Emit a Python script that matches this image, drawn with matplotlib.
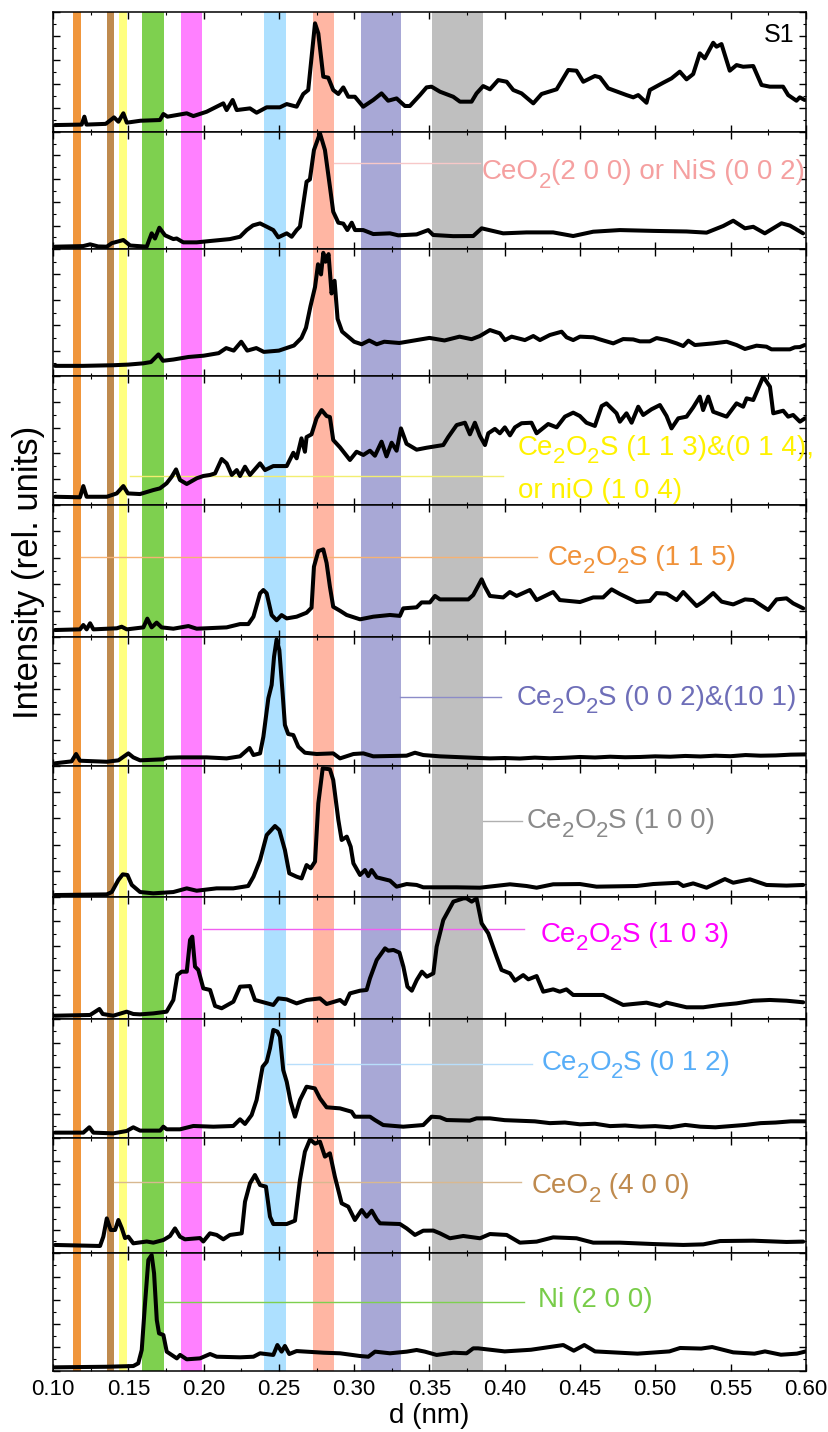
import matplotlib
matplotlib.use('Agg')
import matplotlib.pyplot as plt
from matplotlib.ticker import MultipleLocator, FormatStrFormatter

plt.rcParams['font.family'] = ['Liberation Sans', 'DejaVu Sans']

# d-spacing (nm) and relative intensity (fraction of panel height), top panel first
d1 = [0.1013, 0.119, 0.1208, 0.1222, 0.135, 0.1405, 0.1434, 0.1467, 0.149, 0.158, 0.171, 0.1733, 0.176,
      0.1888, 0.1932, 0.202, 0.2131, 0.2153, 0.2193, 0.222, 0.2308, 0.2352, 0.2419, 0.2507, 0.2552, 0.2618,
      0.2662, 0.2695, 0.274, 0.2762, 0.2795, 0.2828, 0.2861, 0.2895, 0.2928, 0.2961, 0.3005, 0.306, 0.3127,
      0.3182, 0.3226, 0.3282, 0.3337, 0.337, 0.3437, 0.3481, 0.3514, 0.357, 0.3658, 0.3703, 0.378, 0.3813,
      0.3857, 0.3902, 0.3957, 0.4013, 0.4057, 0.4112, 0.419, 0.4245, 0.4345, 0.4422, 0.4477, 0.4522, 0.4599,
      0.4633, 0.4688, 0.4809, 0.4854, 0.4887, 0.4942, 0.4964, 0.5053, 0.5108, 0.5163, 0.5208, 0.5252, 0.5296,
      0.5329, 0.5385, 0.5407, 0.544, 0.5495, 0.554, 0.5584, 0.5651, 0.5706, 0.5761, 0.5849, 0.5883, 0.5938,
      0.596, 0.5993]
i1 = [0.058, 0.062, 0.128, 0.062, 0.068, 0.122, 0.086, 0.156, 0.078, 0.094, 0.100, 0.15, 0.128,
      0.156, 0.133, 0.169, 0.239, 0.183, 0.267, 0.183, 0.197, 0.161, 0.206, 0.206, 0.233, 0.211,
      0.317, 0.35, 0.906, 0.822, 0.461, 0.453, 0.35, 0.317, 0.372, 0.294, 0.294, 0.211, 0.267,
      0.322, 0.261, 0.28, 0.217, 0.217, 0.308, 0.372, 0.378, 0.336, 0.294, 0.253, 0.253, 0.322,
      0.383, 0.356, 0.433, 0.419, 0.35, 0.322, 0.239, 0.317, 0.356, 0.517, 0.511, 0.419, 0.467,
      0.456, 0.364, 0.308, 0.289, 0.308, 0.244, 0.35, 0.411, 0.447, 0.503, 0.439, 0.483, 0.656,
      0.614, 0.744, 0.711, 0.733, 0.511, 0.558, 0.544, 0.55, 0.392, 0.378, 0.378, 0.308, 0.261,
      0.289, 0.267]

d2 = [0.1013, 0.12, 0.1246, 0.13, 0.1357, 0.139, 0.1467, 0.1512, 0.1622, 0.1655, 0.1677, 0.1706, 0.1744,
      0.1799, 0.1821, 0.1865, 0.1954, 0.2063, 0.2175, 0.2242, 0.2286, 0.2328, 0.2375, 0.2419, 0.2463, 0.2496,
      0.2552, 0.2585, 0.2618, 0.264, 0.2684, 0.2706, 0.2733, 0.2773, 0.2806, 0.2839, 0.2861, 0.2895, 0.2928,
      0.2955, 0.2984, 0.3006, 0.306, 0.3127, 0.3238, 0.3293, 0.3415, 0.3492, 0.3525, 0.3658, 0.3791, 0.3847,
      0.399, 0.4145, 0.4322, 0.4455, 0.4588, 0.4765, 0.4986, 0.5208, 0.5341, 0.5452, 0.5518, 0.5596, 0.5651,
      0.5728, 0.5839, 0.5895, 0.5982]
i2 = [0.02, 0.025, 0.04, 0.022, 0.02, 0.05, 0.077, 0.03, 0.02, 0.134, 0.09, 0.182, 0.117,
      0.085, 0.09, 0.057, 0.057, 0.071, 0.085, 0.105, 0.162, 0.202, 0.219, 0.191, 0.162, 0.1,
      0.134, 0.105, 0.162, 0.191, 0.575, 0.595, 0.846, 0.989, 0.846, 0.533, 0.319, 0.225, 0.217,
      0.162, 0.225, 0.162, 0.162, 0.128, 0.134, 0.117, 0.125, 0.162, 0.12, 0.11, 0.111, 0.177,
      0.134, 0.142, 0.142, 0.111, 0.148, 0.162, 0.155, 0.15, 0.14, 0.197, 0.242, 0.177, 0.19,
      0.134, 0.22, 0.2, 0.134]

d3 = [0.1013, 0.12, 0.14, 0.15, 0.16, 0.165, 0.17, 0.173, 0.18, 0.19, 0.2, 0.21, 0.215, 0.22, 0.225, 0.229,
      0.235, 0.24, 0.25, 0.255, 0.26, 0.265, 0.268, 0.271, 0.274, 0.276, 0.278, 0.2795, 0.281, 0.283, 0.285,
      0.287, 0.289, 0.292, 0.295, 0.3, 0.305, 0.31, 0.315, 0.32, 0.33, 0.34, 0.35, 0.36, 0.37, 0.378, 0.3835,
      0.3902, 0.3968, 0.4002, 0.4046, 0.4134, 0.419, 0.4234, 0.43, 0.4378, 0.4411, 0.4455, 0.45, 0.4588, 0.4633,
      0.4721, 0.4787, 0.4854, 0.4898, 0.4964, 0.5009, 0.5075, 0.5142, 0.5186, 0.522, 0.5263, 0.5385, 0.5474,
      0.554, 0.5596, 0.5673, 0.5739, 0.5772, 0.5894, 0.5927, 0.5961, 0.5993]
i3 = [0.08, 0.08, 0.085, 0.09, 0.1, 0.11, 0.17, 0.12, 0.13, 0.15, 0.16, 0.18, 0.22, 0.2, 0.27, 0.2,
      0.22, 0.19, 0.2, 0.22, 0.24, 0.3, 0.38, 0.55, 0.7, 0.88, 0.8, 0.97, 0.9, 0.96, 0.65,
      0.75, 0.45, 0.35, 0.32, 0.27, 0.25, 0.28, 0.25, 0.27, 0.26, 0.28, 0.3, 0.28, 0.31, 0.29, 0.315,
      0.362, 0.336, 0.283, 0.31, 0.283, 0.315, 0.283, 0.323, 0.349, 0.305, 0.283, 0.31, 0.305, 0.288,
      0.257, 0.291, 0.288, 0.273, 0.273, 0.299, 0.283, 0.257, 0.236, 0.278, 0.244, 0.257, 0.27,
      0.244, 0.213, 0.239, 0.231, 0.21, 0.21, 0.226, 0.228, 0.244]

d4 = [0.1013, 0.1179, 0.1201, 0.1223, 0.1357, 0.1423, 0.1467, 0.1497, 0.1578, 0.1666, 0.171, 0.1754, 0.1788,
      0.1817, 0.1843, 0.1888, 0.1954, 0.1998, 0.2043, 0.2076, 0.212, 0.2153, 0.2187, 0.222, 0.2242, 0.2275,
      0.2308, 0.2375, 0.2408, 0.2463, 0.2552, 0.2596, 0.2618, 0.265, 0.2673, 0.2684, 0.2717, 0.275, 0.2784,
      0.2817, 0.2839, 0.2861, 0.2906, 0.2972, 0.3016, 0.3061, 0.3105, 0.3138, 0.3182, 0.3215, 0.3249, 0.3282,
      0.3311, 0.3348, 0.3415, 0.3481, 0.3592, 0.3625, 0.3681, 0.3736, 0.3769, 0.3802, 0.3835, 0.3869, 0.3891,
      0.3935, 0.3968, 0.4001, 0.4035, 0.4068, 0.4112, 0.4178, 0.4212, 0.4289, 0.4345, 0.44, 0.4455, 0.4499,
      0.4543, 0.4599, 0.4644, 0.4676, 0.4743, 0.4765, 0.4809, 0.4843, 0.4887, 0.492, 0.4975, 0.5031, 0.5075,
      0.5108, 0.5153, 0.5208, 0.5252, 0.5296, 0.5318, 0.5352, 0.5385, 0.5474, 0.554, 0.5584, 0.5607, 0.5651,
      0.5717, 0.5762, 0.5784, 0.585, 0.5883, 0.5916, 0.5961, 0.5994]
i4 = [0.064, 0.06, 0.147, 0.064, 0.064, 0.09, 0.147, 0.09, 0.085, 0.116, 0.129, 0.168, 0.219,
      0.276, 0.194, 0.163, 0.207, 0.225, 0.233, 0.245, 0.357, 0.323, 0.233, 0.271, 0.225, 0.297,
      0.233, 0.323, 0.271, 0.302, 0.302, 0.405, 0.362, 0.517, 0.413, 0.527, 0.548, 0.672, 0.736,
      0.69, 0.682, 0.504, 0.447, 0.349, 0.413, 0.388, 0.421, 0.382, 0.491, 0.377, 0.483, 0.421,
      0.594, 0.475, 0.429, 0.444, 0.465, 0.527, 0.62, 0.638, 0.548, 0.638, 0.537, 0.465, 0.556,
      0.59, 0.556, 0.602, 0.54, 0.602, 0.634, 0.638, 0.556, 0.628, 0.602, 0.685, 0.716, 0.69,
      0.638, 0.613, 0.767, 0.788, 0.711, 0.646, 0.711, 0.638, 0.762, 0.698, 0.742, 0.775, 0.69,
      0.594, 0.672, 0.685, 0.757, 0.84, 0.736, 0.84, 0.723, 0.685, 0.788, 0.762, 0.827, 0.814,
      0.995, 0.917, 0.711, 0.731, 0.685, 0.698, 0.646, 0.672]

d5 = [0.1013, 0.1179, 0.1201, 0.1223, 0.1246, 0.1268, 0.1423, 0.1456, 0.149, 0.16, 0.1626, 0.1655, 0.1688,
      0.1721, 0.1799, 0.1899, 0.1954, 0.2153, 0.2242, 0.2297, 0.2331, 0.2375, 0.2397, 0.2419, 0.2452, 0.2485,
      0.2518, 0.2552, 0.2618, 0.2684, 0.2717, 0.2733, 0.2762, 0.2795, 0.2817, 0.2839, 0.2861, 0.2906, 0.295,
      0.3039, 0.3127, 0.3238, 0.3304, 0.3326, 0.3415, 0.3448, 0.3503, 0.3537, 0.357, 0.3614, 0.3758, 0.3791,
      0.3847, 0.3869, 0.3902, 0.399, 0.4034, 0.4079, 0.4167, 0.4212, 0.4322, 0.4366, 0.45, 0.4588, 0.4654,
      0.471, 0.4765, 0.4876, 0.4964, 0.5009, 0.5075, 0.5142, 0.5186, 0.5275, 0.5319, 0.5385, 0.5441, 0.5518,
      0.5596, 0.5651, 0.575, 0.5806, 0.5872, 0.5916, 0.5983]
i5 = [0.053, 0.058, 0.091, 0.058, 0.104, 0.058, 0.066, 0.078, 0.058, 0.073, 0.139, 0.073, 0.109,
      0.073, 0.063, 0.083, 0.063, 0.073, 0.098, 0.098, 0.154, 0.331, 0.356, 0.331, 0.166, 0.127,
      0.166, 0.141, 0.154, 0.184, 0.222, 0.533, 0.651, 0.664, 0.561, 0.381, 0.229, 0.199, 0.167,
      0.134, 0.154, 0.167, 0.16, 0.217, 0.225, 0.262, 0.262, 0.311, 0.285, 0.285, 0.285, 0.318,
      0.437, 0.38, 0.311, 0.3, 0.341, 0.311, 0.356, 0.28, 0.341, 0.28, 0.265, 0.3, 0.3,
      0.361, 0.326, 0.265, 0.273, 0.333, 0.328, 0.28, 0.341, 0.235, 0.268, 0.333, 0.268, 0.247,
      0.285, 0.28, 0.205, 0.285, 0.293, 0.255, 0.217]

d6 = [0.1013, 0.1123, 0.1153, 0.1179, 0.1357, 0.1434, 0.15, 0.1533, 0.1578, 0.1733, 0.1755, 0.1843, 0.202,
      0.2153, 0.2242, 0.2305, 0.2331, 0.2375, 0.2397, 0.243, 0.2452, 0.2468, 0.2485, 0.2503, 0.2525, 0.254,
      0.2562, 0.2596, 0.2629, 0.2673, 0.2751, 0.2861, 0.2906, 0.2995, 0.3061, 0.3127, 0.3348, 0.3404, 0.3459,
      0.357, 0.3791, 0.3902, 0.40, 0.41, 0.42, 0.43, 0.44, 0.45, 0.46, 0.47, 0.48, 0.49, 0.50, 0.51, 0.52,
      0.53, 0.54, 0.55, 0.56, 0.57, 0.58, 0.59, 0.60]
i6 = [0.021, 0.036, 0.093, 0.041, 0.033, 0.044, 0.098, 0.067, 0.044, 0.052, 0.064, 0.067, 0.067,
      0.059, 0.075, 0.14, 0.085, 0.098, 0.227, 0.525, 0.628, 0.848, 0.982, 0.899, 0.563, 0.318,
      0.248, 0.24, 0.15, 0.103, 0.093, 0.098, 0.059, 0.093, 0.098, 0.075, 0.08, 0.103, 0.085,
      0.075, 0.064, 0.059, 0.062, 0.058, 0.065, 0.06, 0.064, 0.07, 0.066, 0.072, 0.068, 0.07, 0.075, 0.072, 0.078,
      0.074, 0.08, 0.076, 0.085, 0.08, 0.082, 0.088, 0.09]

d7 = [0.1013, 0.1357, 0.139, 0.1434, 0.1463, 0.1494, 0.1523, 0.1578, 0.1666, 0.1799, 0.1888, 0.1954, 0.2086,
      0.2197, 0.2296, 0.2331, 0.2375, 0.2419, 0.2474, 0.2503, 0.254, 0.2569, 0.2618, 0.2651, 0.2684, 0.2711,
      0.274, 0.2762, 0.2791, 0.2839, 0.2861, 0.2895, 0.2917, 0.2951, 0.2977, 0.2995, 0.3039, 0.3072, 0.3094,
      0.3116, 0.315, 0.3238, 0.3282, 0.3349, 0.3415, 0.3459, 0.3681, 0.3835, 0.4035, 0.4145, 0.4212, 0.4322,
      0.45, 0.461, 0.4876, 0.4986, 0.5153, 0.5186, 0.5252, 0.5341, 0.5463, 0.5518, 0.5629, 0.5739, 0.5872,
      0.5983]
i7 = [0.015, 0.02, 0.038, 0.13, 0.173, 0.168, 0.092, 0.038, 0.028, 0.038, 0.066, 0.048, 0.066,
      0.066, 0.084, 0.155, 0.282, 0.473, 0.542, 0.511, 0.359, 0.181, 0.155, 0.142, 0.244, 0.219,
      0.27, 0.715, 0.982, 0.975, 0.893, 0.588, 0.435, 0.461, 0.384, 0.257, 0.168, 0.206, 0.16,
      0.206, 0.15, 0.125, 0.079, 0.099, 0.092, 0.074, 0.074, 0.071, 0.097, 0.084, 0.071, 0.097,
      0.099, 0.079, 0.084, 0.099, 0.109, 0.084, 0.104, 0.071, 0.137, 0.109, 0.135, 0.092, 0.087,
      0.092]

d8 = [0.1013, 0.1246, 0.1308, 0.133, 0.14, 0.1489, 0.1533, 0.1578, 0.1666, 0.1754, 0.1799, 0.1826, 0.1854,
      0.1888, 0.191, 0.1925, 0.1943, 0.1965, 0.1998, 0.2043, 0.2076, 0.212, 0.2198, 0.2242, 0.2308, 0.2341,
      0.2463, 0.2496, 0.2552, 0.2618, 0.2684, 0.2773, 0.2817, 0.2906, 0.2939, 0.2972, 0.3039, 0.3083, 0.3105,
      0.315, 0.3205, 0.3227, 0.3261, 0.3301, 0.3327, 0.3354, 0.3383, 0.3416, 0.345, 0.3483, 0.3526, 0.3548,
      0.3592, 0.3659, 0.3726, 0.3747, 0.3781, 0.3813, 0.3847, 0.3891, 0.3946, 0.3979, 0.4035, 0.4068, 0.4123,
      0.4157, 0.4212, 0.4256, 0.4322, 0.4366, 0.441, 0.4455, 0.4654, 0.4787, 0.4942, 0.5031, 0.5075, 0.5208,
      0.5319, 0.5429, 0.554, 0.5651, 0.5761, 0.5872, 0.5983]
i8 = [0.027, 0.033, 0.082, 0.041, 0.027, 0.06, 0.041, 0.038, 0.046, 0.06, 0.156, 0.361, 0.388,
      0.388, 0.648, 0.675, 0.429, 0.402, 0.251, 0.238, 0.107, 0.088, 0.142, 0.265, 0.27, 0.156,
      0.115, 0.169, 0.161, 0.128, 0.156, 0.169, 0.123, 0.156, 0.123, 0.21, 0.232, 0.238, 0.333,
      0.484, 0.579, 0.56, 0.566, 0.544, 0.429, 0.265, 0.232, 0.32, 0.388, 0.347, 0.374, 0.593,
      0.811, 0.962, 0.989, 0.989, 0.962, 0.989, 0.784, 0.702, 0.511, 0.402, 0.374, 0.314, 0.36,
      0.325, 0.352, 0.224, 0.243, 0.224, 0.243, 0.197, 0.197, 0.115, 0.134, 0.107, 0.134, 0.096,
      0.096, 0.115, 0.128, 0.15, 0.156, 0.15, 0.137]

d9 = [0.1013, 0.1201, 0.1241, 0.1268, 0.14, 0.1489, 0.1533, 0.1578, 0.1711, 0.1733, 0.1755, 0.1843, 0.1932,
      0.2065, 0.2197, 0.2242, 0.2275, 0.2319, 0.2352, 0.2392, 0.2419, 0.2441, 0.2463, 0.249, 0.2507, 0.2529,
      0.2552, 0.2578, 0.2607, 0.264, 0.2684, 0.2739, 0.2773, 0.2817, 0.2906, 0.2983, 0.3005, 0.3105, 0.3138,
      0.3193, 0.3326, 0.3459, 0.3514, 0.357, 0.3614, 0.3768, 0.3813, 0.3902, 0.40, 0.41, 0.42, 0.43, 0.44,
      0.45, 0.46, 0.47, 0.48, 0.49, 0.50, 0.51, 0.52, 0.53, 0.54, 0.55, 0.56, 0.57, 0.58, 0.59, 0.60]
i9 = [0.045, 0.045, 0.09, 0.045, 0.039, 0.059, 0.09, 0.062, 0.062, 0.095, 0.073, 0.073, 0.101,
      0.095, 0.101, 0.157, 0.118, 0.193, 0.319, 0.599, 0.641, 0.754, 0.908, 0.894, 0.852, 0.571,
      0.473, 0.305, 0.179, 0.319, 0.431, 0.417, 0.333, 0.258, 0.249, 0.221, 0.179, 0.179, 0.151,
      0.109, 0.095, 0.109, 0.179, 0.174, 0.151, 0.146, 0.165, 0.165, 0.15, 0.145, 0.14, 0.125, 0.13,
      0.115, 0.12, 0.1, 0.105, 0.095, 0.1, 0.09, 0.11, 0.095, 0.09, 0.1, 0.11, 0.125, 0.13, 0.14, 0.14]

d10 = [0.1013, 0.1312, 0.1334, 0.1357, 0.1383, 0.1412, 0.1434, 0.1457, 0.1478, 0.15, 0.1533, 0.1622, 0.1666,
       0.1733, 0.1777, 0.181, 0.1843, 0.1876, 0.1976, 0.1998, 0.2042, 0.2087, 0.2131, 0.2175, 0.2253, 0.2275,
       0.2308, 0.2341, 0.2375, 0.2414, 0.2441, 0.2463, 0.2552, 0.2607, 0.264, 0.2673, 0.2707, 0.274, 0.2773,
       0.2806, 0.2839, 0.2872, 0.2917, 0.2961, 0.3005, 0.305, 0.3083, 0.3117, 0.315, 0.3172, 0.3304, 0.3349,
       0.3404, 0.3459, 0.3526, 0.357, 0.3636, 0.3725, 0.3836, 0.3902, 0.4013, 0.4101, 0.4212, 0.4322, 0.4477,
       0.4588, 0.4765, 0.4986, 0.5186, 0.5319, 0.543, 0.5651, 0.5872, 0.5983]
i10 = [0.07, 0.061, 0.142, 0.301, 0.2, 0.2, 0.287, 0.214, 0.13, 0.142, 0.084, 0.1, 0.09,
       0.113, 0.148, 0.214, 0.142, 0.119, 0.13, 0.1, 0.171, 0.157, 0.119, 0.157, 0.171, 0.446,
       0.606, 0.678, 0.591, 0.577, 0.316, 0.252, 0.252, 0.281, 0.635, 0.881, 0.988, 0.951, 0.968,
       0.838, 0.867, 0.664, 0.432, 0.403, 0.287, 0.374, 0.316, 0.368, 0.293, 0.258, 0.252, 0.214,
       0.157, 0.194, 0.195, 0.171, 0.128, 0.148, 0.128, 0.165, 0.157, 0.09, 0.099, 0.136, 0.128,
       0.09, 0.09, 0.078, 0.07, 0.075, 0.104, 0.107, 0.096, 0.099]

d11 = [0.1013, 0.1357, 0.1533, 0.1566, 0.1589, 0.1611, 0.1633, 0.1655, 0.1671, 0.1689, 0.1704, 0.1733, 0.1755,
       0.1788, 0.1822, 0.1844, 0.1888, 0.1976, 0.2043, 0.2087, 0.2242, 0.2331, 0.2375, 0.2463, 0.249, 0.2518,
       0.254, 0.2569, 0.2618, 0.2796, 0.2906, 0.3039, 0.3094, 0.3139, 0.3238, 0.3349, 0.3415, 0.347, 0.3548,
       0.3659, 0.3747, 0.3791, 0.3823, 0.40, 0.4174, 0.4389, 0.4459, 0.4529, 0.46, 0.4882, 0.5094, 0.5165,
       0.5305, 0.5378, 0.5518, 0.5659, 0.5729, 0.5835, 0.5941, 0.60]
i11 = [0.031, 0.036, 0.042, 0.065, 0.178, 0.573, 0.941, 0.983, 0.828, 0.432, 0.319, 0.305, 0.164,
       0.136, 0.107, 0.136, 0.099, 0.107, 0.144, 0.121, 0.116, 0.121, 0.15, 0.136, 0.22, 0.164,
       0.212, 0.144, 0.169, 0.155, 0.15, 0.127, 0.121, 0.164, 0.15, 0.164, 0.178, 0.164, 0.136,
       0.155, 0.15, 0.192, 0.192, 0.166, 0.18, 0.22, 0.172, 0.22, 0.166, 0.147, 0.166, 0.195,
       0.19, 0.203, 0.158, 0.147, 0.166, 0.138, 0.147, 0.166]

d_sets = [d1, d2, d3, d4, d5, d6, d7, d8, d9, d10, d11]
i_sets = [i1, i2, i3, i4, i5, i6, i7, i8, i9, i10, i11]

# reflection bands (nm)
band_lo = [0.1135, 0.1357, 0.1440, 0.1589, 0.1848, 0.2401, 0.2724, 0.3043, 0.3517]
band_hi = [0.1185, 0.1405, 0.1493, 0.1737, 0.1992, 0.2547, 0.2864, 0.3309, 0.3853]
band_colors = ['#F0963C', '#BF8A4E', '#FFFF80', '#7ED04F', '#FF80FF',
               '#ADE0FF', '#FFB6A3', '#A8A8D6', '#BFBFBF']

# "_x" marks a subscript character
labels = ['CeO_2(2 0 0) or NiS (0 0 2)',
          'Ce_2O_2S (1 1 3)&(0 1 4),',
          'Ce_2O_2S (1 1 5)',
          'Ce_2O_2S (0 0 2)&(10 1)',
          'Ce_2O_2S (1 0 0)',
          'Ce_2O_2S (1 0 3)',
          'Ce_2O_2S (0 1 2)',
          'CeO_2 (4 0 0)',
          'Ni (2 0 0)']

# panel, line y, line x0, line x1, text x, text baseline y, text colour, line colour
annot = [
    (1, 0.735, 0.2866, 0.3835, 0.3847, 0.596, '#F5A0A0', '#F7C8C8'),
    (3, 0.222, 0.1514, 0.3988, 0.4088, 0.388, '#FFF200', '#F2EE70'),
    (4, 0.608, 0.1184, 0.4214, 0.4285, 0.545, '#F0923A', '#F5B274'),
    (5, 0.537, 0.3305, 0.3975, 0.4079, 0.473, '#6E6EB8', '#8C8CC8'),
    (6, 0.580, 0.3853, 0.4112, 0.4145, 0.524, '#8A8A8A', '#B0B0B0'),
    (7, 0.738, 0.1996, 0.4127, 0.4238, 0.634, '#FF00FF', '#F060F0'),
    (8, 0.622, 0.2552, 0.4179, 0.4245, 0.571, '#58AEF8', '#B8DEFB'),
    (9, 0.620, 0.1405, 0.4106, 0.4179, 0.519, '#BF8A4E', '#D8B890'),
    (10, 0.587, 0.1737, 0.4127, 0.4220, 0.545, '#78CC48', '#7ED04F'),
]

heights = [120, 117, 127, 129, 132, 129, 131, 122, 119, 115, 118]

fig = plt.figure(figsize=(8.29, 14.32), dpi=100)
gs = fig.add_gridspec(11, 1, height_ratios=heights, hspace=0,
                      left=0.064, right=0.972, top=0.9916, bottom=0.0426)
renderer = fig.canvas.get_renderer()


def rich_text(ax, x, y, label, color, size):
    pieces, buf, i = [], '', 0
    while i < len(label):
        if label[i] == '_':
            if buf:
                pieces.append((buf, False))
                buf = ''
            pieces.append((label[i + 1], True))
            i += 2
        else:
            buf += label[i]
            i += 1
    if buf:
        pieces.append((buf, False))
    off = 0.0
    for s, sub in pieces:
        fs = size * 0.8 if sub else size
        dy = -0.3 * size if sub else 0.0
        t = ax.annotate(s, xy=(x, y), xycoords='data', xytext=(off, dy),
                        textcoords='offset points', color=color, fontsize=fs,
                        ha='left', va='baseline', zorder=5)
        off += t.get_window_extent(renderer).width * 72.0 / fig.dpi


axes = []
for k in range(11):
    ax = fig.add_subplot(gs[k])
    axes.append(ax)
    for lo, hi, c in zip(band_lo, band_hi, band_colors):
        ax.axvspan(lo, hi, color=c, lw=0, zorder=0)
    ax.plot(d_sets[k], i_sets[k], color='black', lw=2.9, zorder=4,
            solid_joinstyle='round', solid_capstyle='round')
    ax.set_xlim(0.10, 0.60)
    ax.set_ylim(0, 1.0)
    ax.xaxis.set_major_locator(MultipleLocator(0.05))
    ax.xaxis.set_minor_locator(MultipleLocator(0.025))
    ax.yaxis.set_major_locator(MultipleLocator(0.2))
    ax.yaxis.set_minor_locator(MultipleLocator(0.1))
    ax.tick_params(which='both', direction='in', top=True, right=True, labelleft=False)
    ax.tick_params(which='major', length=5, width=1)
    ax.tick_params(which='minor', length=2.5, width=0.8)
    for s in ax.spines.values():
        s.set_linewidth(1.1)
    if k < 10:
        ax.tick_params(labelbottom=False)
    else:
        ax.xaxis.set_major_formatter(FormatStrFormatter('%.2f'))
        ax.tick_params(axis='x', labelsize=16, pad=6)
        ax.set_xlabel('d (nm)', fontsize=20, labelpad=2)

for (k, ly, x0, x1, tx, ty, tc, lc), lab in zip(annot, labels):
    ax = axes[k]
    ax.plot([x0, x1], [ly, ly], color=lc, lw=1.0, zorder=3)
    rich_text(ax, tx, ty, lab, tc, 20)

rich_text(axes[3], 0.4088, 0.052, 'or niO (1 0 4)', '#FFF200', 20)
axes[0].text(0.5927, 0.753, 'S1', fontsize=18, ha='right', va='baseline')

fig.text(0.034, 0.60, 'Intensity (rel. units)', rotation=90, fontsize=25,
         ha='center', va='center')

fig.savefig('out.png', dpi=100)
